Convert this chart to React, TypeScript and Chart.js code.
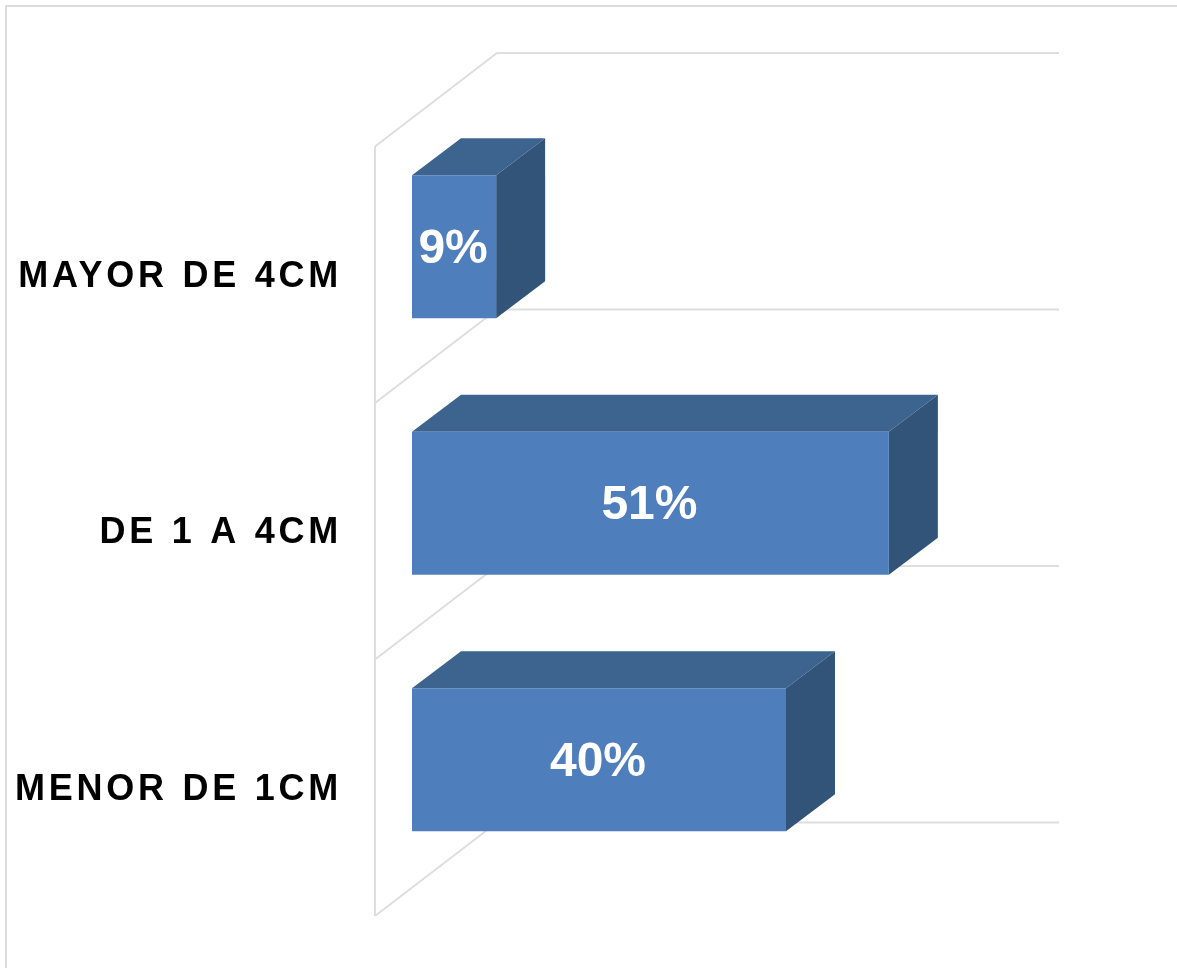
import React, { useEffect, useRef } from "react";
import { Chart, registerables } from "chart.js";

Chart.register(...registerables);

const categories = ["MAYOR DE 4CM", "DE 1 A 4CM", "MENOR DE 1CM"];
const percentages = [9, 51, 40];
const axisMax = 60;

const FRONT = "#4f7ebd";
const TOP = "#3d638f";
const SIDE = "#335479";
const GRID = "#dedede";

// Oblique projection offsets used for the box depth and the wall/floor planes.
const BOX_DX = 49;
const BOX_DY = -37;
const WALL_FRONT = { dx: -37, dy: 28 };
const WALL_BACK = { dx: 85, dy: -65.5 };
const GRID_OVERHANG = 86;

const fillPoly = (ctx: CanvasRenderingContext2D, pts: number[][], color: string) => {
  ctx.beginPath();
  pts.forEach(([x, y], i) => (i ? ctx.lineTo(x, y) : ctx.moveTo(x, y)));
  ctx.closePath();
  ctx.fillStyle = color;
  ctx.fill();
};

const strokePath = (ctx: CanvasRenderingContext2D, pts: number[][]) => {
  ctx.beginPath();
  pts.forEach(([x, y], i) => (i ? ctx.lineTo(x, y) : ctx.moveTo(x, y)));
  ctx.stroke();
};

const spacedLabels = {
  id: "spacedLabels",
  beforeDraw(chart: any) {
    chart.ctx.letterSpacing = "3.75px";
    chart.ctx.wordSpacing = "1px";
  },
  afterDraw(chart: any) {
    chart.ctx.letterSpacing = "0px";
    chart.ctx.wordSpacing = "0px";
  },
};

const walls = {
  id: "walls",
  beforeDatasetsDraw(chart: any) {
    const { ctx, scales } = chart;
    const x = scales.x;
    const y = scales.y;
    const band = (y.bottom - y.top) / categories.length;
    ctx.save();
    ctx.strokeStyle = GRID;
    ctx.lineWidth = 2;
    const xFront = x.left + WALL_FRONT.dx;
    const xBack = x.left + WALL_BACK.dx;
    const xEnd = x.right + GRID_OVERHANG;
    strokePath(ctx, [
      [xFront, y.top + WALL_FRONT.dy],
      [xFront, y.bottom + WALL_FRONT.dy],
    ]);
    for (let i = 0; i <= categories.length; i++) {
      const b = y.top + i * band;
      strokePath(ctx, [
        [xFront, b + WALL_FRONT.dy],
        [xBack, b + WALL_BACK.dy],
        [xEnd, b + WALL_BACK.dy],
      ]);
    }
    ctx.restore();
  },
};

const boxFaces = {
  id: "boxFaces",
  beforeDatasetsDraw(chart: any) {
    const { ctx } = chart;
    chart.getDatasetMeta(0).data.forEach((bar: any) => {
      const top = bar.y - bar.height / 2;
      const bottom = bar.y + bar.height / 2;
      fillPoly(ctx, [
        [bar.base, top],
        [bar.base + BOX_DX, top + BOX_DY],
        [bar.x + BOX_DX, top + BOX_DY],
        [bar.x, top],
      ], TOP);
      fillPoly(ctx, [
        [bar.x, top],
        [bar.x + BOX_DX, top + BOX_DY],
        [bar.x + BOX_DX, bottom + BOX_DY],
        [bar.x, bottom],
      ], SIDE);
    });
  },
};

const valueLabels = {
  id: "valueLabels",
  afterDatasetsDraw(chart: any) {
    const { ctx } = chart;
    ctx.save();
    ctx.letterSpacing = "0px";
    ctx.wordSpacing = "0px";
    ctx.font = 'bold 48px "Liberation Sans"';
    ctx.fillStyle = "#ffffff";
    ctx.textAlign = "center";
    ctx.textBaseline = "middle";
    chart.getDatasetMeta(0).data.forEach((bar: any, i: number) => {
      ctx.fillText(`${percentages[i]}%`, (bar.base + bar.x) / 2 - 1, bar.y + 3);
    });
    ctx.restore();
  },
};

export default function App() {
  const ref = useRef<HTMLCanvasElement | null>(null);

  useEffect(() => {
    if (!ref.current) return;
    const chart = new Chart(ref.current, {
      type: "bar",
      data: {
        labels: categories,
        datasets: [
          {
            data: percentages,
            backgroundColor: FRONT,
            barPercentage: 0.5575,
            categoryPercentage: 1,
          },
        ],
      },
      options: {
        indexAxis: "y",
        responsive: false,
        animation: false,
        layout: { padding: { left: 0, top: 118.5, right: 204, bottom: 80 } },
        plugins: { legend: { display: false }, tooltip: { enabled: false } },
        scales: {
          x: { display: false, min: 0, max: axisMax },
          y: {
            border: { display: false },
            grid: { display: false, drawTicks: false },
            afterFit: (scale: any) => {
              scale.width = 412;
              // The wide tick padding only offsets labels sideways; keep the plot height free of it.
              scale.paddingTop = 0;
              scale.paddingBottom = 0;
            },
            ticks: {
              color: "#000000",
              padding: 70,
              labelOffset: 30,
              font: { family: '"Liberation Sans"', size: 36, weight: "bold" },
            },
          },
        },
      },
      plugins: [spacedLabels, walls, boxFaces, valueLabels],
    } as any);
    return () => chart.destroy();
  }, []);

  return (
    <div style={{ position: "fixed", inset: 0, overflow: "hidden", background: "#fff" }}>
      <div
        style={{
          position: "absolute",
          left: 5,
          top: 5,
          right: 0,
          bottom: 0,
          borderLeft: "2px solid #dcdcdc",
          borderTop: "2px solid #dcdcdc",
        }}
      />
      <canvas ref={ref} width={1177} height={968} style={{ position: "absolute", left: 0, top: 0 }} />
    </div>
  );
}
